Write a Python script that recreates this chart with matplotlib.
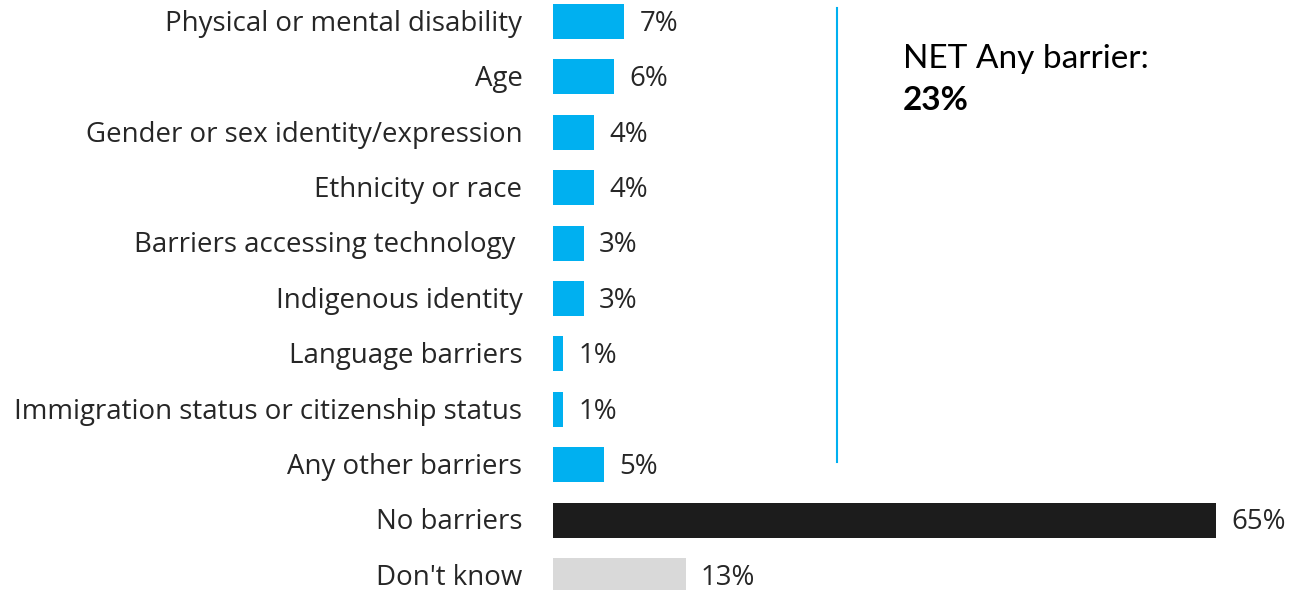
import matplotlib
matplotlib.use("Agg")
import matplotlib.pyplot as plt
from matplotlib.lines import Line2D

# Дані
labels = [
    "Physical or mental disability",
    "Age",
    "Gender or sex identity/expression",
    "Ethnicity or race",
    "Barriers accessing technology ",
    "Indigenous identity",
    "Language barriers",
    "Immigration status or citizenship status",
    "Any other barriers",
    "No barriers",
    "Don't know",
]
values = [7, 6, 4, 4, 3, 3, 1, 1, 5, 65, 13]
net_label = "NET Any barrier:"
net_value = "23%"

blue = "#00B0F0"
colors = [blue] * 9 + ["#1C1C1C", "#D9D9D9"]
text_color = "#262626"

W, H = 1299, 590
fig = plt.figure(figsize=(W / 100, H / 100), dpi=100)

# Осі в пікселях: ліва межа барів 553 px, 10.2 px на 1%
left_px = 553
px_per = 10.2
xmax = (W - left_px) / px_per
ax = fig.add_axes([left_px / W, 0, 1 - left_px / W, 1])

row0, step = 21.5, 55.4
ax.set_xlim(0, xmax)
ax.set_ylim((H - row0) / step, -row0 / step)

ypos = list(range(len(values)))
ax.barh(ypos, values, height=0.63, color=colors, left=0)

for y, v, lab in zip(ypos, values, labels):
    ax.text(v + 1.5, y + 0.04, f"{v}%", va="center", ha="left",
            fontsize=19.9, color=text_color, family="Open Sans")
    ax.text(-3.0, y + 0.04, lab, va="center", ha="right",
            fontsize=19.9, color=text_color, family="Open Sans")

ax.axis("off")

# Вертикальна лінія
fig.add_artist(Line2D([837 / W, 837 / W], [1 - 8 / H, 1 - 462 / H],
                      color=blue, lw=1.5))

fig.text(903 / W, 1 - 59 / H, net_label, fontsize=24, family="Lato",
         color="black", va="center", ha="left")
fig.text(903 / W, 1 - 101 / H, net_value, fontsize=24, family="Lato",
         fontweight="bold", color="black", va="center", ha="left")

fig.savefig("out.png", dpi=100)
